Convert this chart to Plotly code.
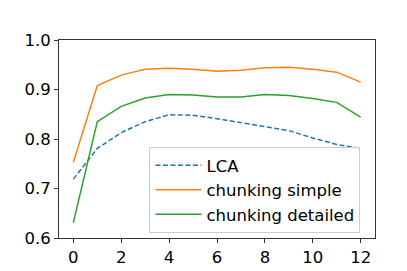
import plotly.graph_objects as go

x = list(range(13))
lca = [0.719, 0.781, 0.813, 0.835, 0.849, 0.848, 0.841, 0.833, 0.824, 0.817, 0.802, 0.789, 0.781]
chunk_simple = [0.753, 0.908, 0.929, 0.941, 0.943, 0.941, 0.937, 0.939, 0.944, 0.945, 0.941, 0.935, 0.915]
chunk_detailed = [0.631, 0.835, 0.866, 0.883, 0.890, 0.889, 0.885, 0.885, 0.890, 0.888, 0.882, 0.874, 0.844]
names = ["LCA", "chunking simple", "chunking detailed"]
x_ticks = [0, 2, 4, 6, 8, 10, 12]
y_ticks = [0.6, 0.7, 0.8, 0.9, 1.0]

fig = go.Figure()
fig.add_trace(go.Scatter(x=x, y=lca, mode="lines", name=names[0],
                         line=dict(color="#1f77b4", width=1.5, dash="5px,2.5px")))
fig.add_trace(go.Scatter(x=x, y=chunk_simple, mode="lines", name=names[1],
                         line=dict(color="#ff7f0e", width=1.5)))
fig.add_trace(go.Scatter(x=x, y=chunk_detailed, mode="lines", name=names[2],
                         line=dict(color="#2ca02c", width=1.5)))

axis_common = dict(showgrid=False, zeroline=False, showline=True, linecolor="#333333",
                   linewidth=1, mirror=True, ticks="outside", ticklen=4, tickwidth=1,
                   tickcolor="#333333", tickfont=dict(size=16.5, color="black", family="DejaVu Sans"))
fig.update_xaxes(range=[-0.6, 12.6], tickvals=x_ticks, ticktext=[str(v) for v in x_ticks], **axis_common)
fig.update_yaxes(range=[0.6, 1.0], tickvals=y_ticks, ticktext=[f"{v:.1f}" for v in y_ticks], **axis_common)

fig.update_layout(
    width=407, height=271,
    margin=dict(l=51, r=40, t=32, b=34),
    paper_bgcolor="white", plot_bgcolor="white",
    font=dict(family="DejaVu Sans", size=16.5, color="black"),
    legend=dict(x=0.954, y=0.025, xanchor="right", yanchor="bottom",
                bgcolor="rgba(255,255,255,0.8)", bordercolor="#cccccc", borderwidth=1,
                font=dict(size=16.5, color="black"), tracegroupgap=0, itemwidth=46),
)

fig.write_html("out.html")
